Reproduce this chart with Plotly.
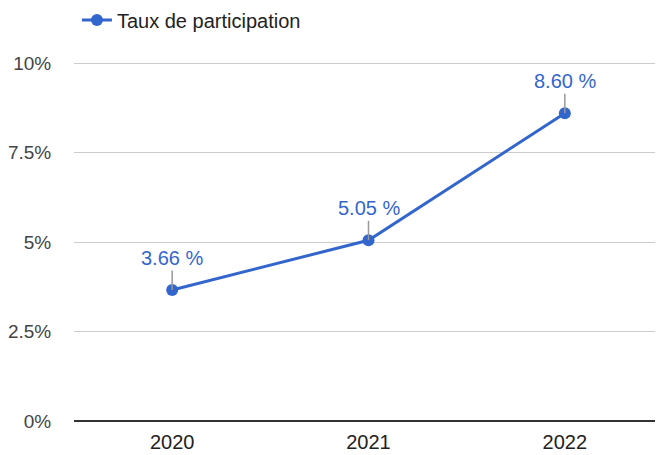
import plotly.graph_objects as go

years = ["2020", "2021", "2022"]
rates = [3.66, 5.05, 8.60]
labels = ["3.66 %", "5.05 %", "8.60 %"]
ytick_vals = [0, 2.5, 5, 7.5, 10]
ytick_text = ["0%", "2.5%", "5%", "7.5%", "10%"]

color = "#3366cc"
font_family = "Arial, Liberation Sans, sans-serif"

fig = go.Figure()
fig.add_trace(go.Scatter(
    x=years, y=rates, mode="lines+markers", name="Taux de participation",
    line=dict(color=color, width=3), marker=dict(color=color, size=12),
    cliponaxis=False,
))

for i, (y, t) in enumerate(zip(rates, labels)):
    fig.add_annotation(
        x=i, y=y, xref="x", yref="y", text=t, showarrow=True, arrowhead=0,
        arrowwidth=1.5, arrowcolor="#999999", ax=0, ay=-32,
        font=dict(size=20, color=color),
    )

fig.update_layout(
    width=655, height=447,
    margin=dict(l=66, r=0, t=54, b=34, autoexpand=False),
    paper_bgcolor="white", plot_bgcolor="white",
    font=dict(family=font_family, size=20, color="#444444"),
    showlegend=True,
    legend=dict(
        orientation="h", x=0.005, xanchor="left", y=0.973, yanchor="middle",
        yref="container",
        font=dict(family=font_family, size=20, color="#222222"),
        bgcolor="rgba(0,0,0,0)",
    ),
    xaxis=dict(
        type="category", range=[-0.5, 2.5], showgrid=False, zeroline=False,
        showline=False, ticks="outside", ticklen=3, tickcolor="rgba(0,0,0,0)",
        automargin=False, tickfont=dict(size=20, color="#222222"),
    ),
    yaxis=dict(
        range=[0, 10.03], tickvals=ytick_vals, ticktext=ytick_text,
        showgrid=True, gridcolor="#cccccc", gridwidth=1,
        zeroline=True, zerolinecolor="#333333", zerolinewidth=2,
        showline=False, ticks="outside", ticklen=18, automargin=False,
        tickcolor="rgba(0,0,0,0)", tickfont=dict(size=19, color="#444444"),
    ),
)

fig.write_html("out.html")
